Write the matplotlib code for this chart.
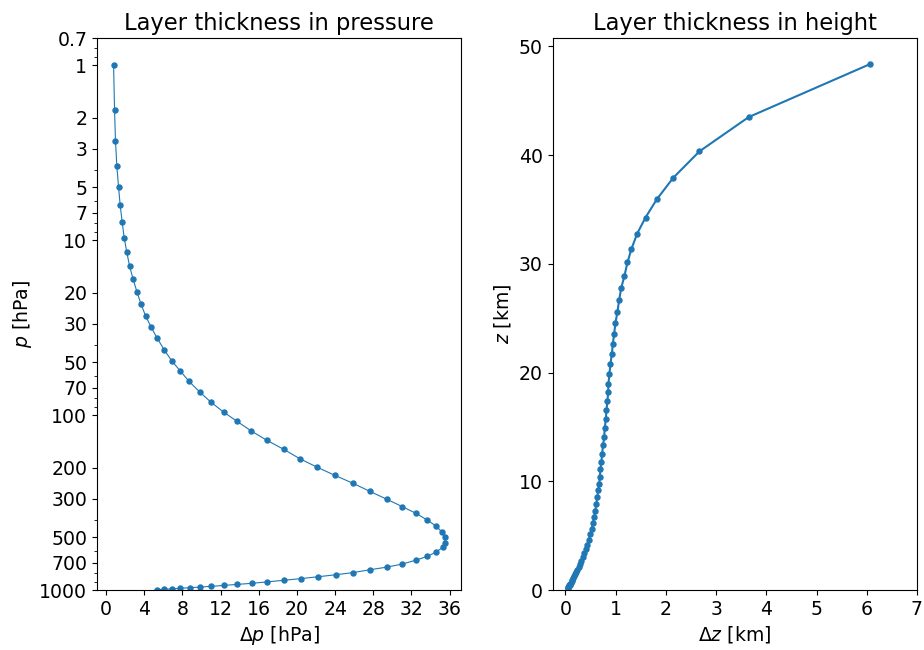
import matplotlib
matplotlib.use("Agg")
import matplotlib.pyplot as plt
from matplotlib.ticker import FixedLocator, FixedFormatter, NullFormatter

# layer mid pressure [hPa] and layer thickness [hPa], top -> bottom
p_mid = [1.0, 1.80, 2.72, 3.77, 4.97, 6.32, 7.9, 9.7, 11.75, 14.06,
         16.75, 19.7, 23.1, 27.1, 31.5, 36.4, 42.3, 48.8, 55.9, 64.3,
         73.9, 84.3, 96.1, 108.7, 123.3, 139.4, 156.9, 177.3, 198.8, 221.5,
         245.9, 273.0, 303.0, 333.7, 364.4, 398.0, 432.0, 467.7, 499.0, 538.0,
         571.0, 605.0, 643.0, 675.0, 711.0, 740.0, 766.0, 795.0, 818.0, 840.0,
         861.0, 880.0, 899.0, 916.0, 929.0, 942.0, 953.0, 962.0, 970.0, 978.0,
         985.0, 991.0, 996.0]
dp = [0.78, 0.88, 0.98, 1.12, 1.30, 1.47, 1.68, 1.89, 2.17, 2.45,
      2.83, 3.22, 3.64, 4.13, 4.72, 5.35, 6.08, 6.85, 7.76, 8.70,
      9.82, 10.97, 12.3, 13.73, 15.2, 16.84, 18.6, 20.27, 22.12, 24.0,
      25.9, 27.64, 29.42, 31.03, 32.46, 33.65, 34.6, 35.22, 35.5, 35.5,
      35.27, 34.6, 33.65, 32.46, 31.03, 29.42, 27.64, 25.9, 24.08, 22.2,
      20.4, 18.6, 16.84, 15.24, 13.7, 12.3, 11.0, 9.82, 8.77, 7.76,
      6.9, 6.08, 5.35]

# layer mid height [km] and layer thickness [km]
z_mid = [48.35, 43.49, 40.34, 37.92, 35.93, 34.25, 32.78, 31.38, 30.12, 28.9,
         27.74, 26.67, 25.6, 24.56, 23.58, 22.63, 21.71, 20.8, 19.88, 18.96,
         18.17, 17.34, 16.51, 15.72, 14.93, 14.06, 13.3, 12.54, 11.8, 11.1,
         10.4, 9.79, 9.17, 8.53, 7.905, 7.30, 6.716, 6.156, 5.62, 5.112,
         4.633, 4.18, 3.76, 3.37, 3.01, 2.68, 2.38, 2.105, 1.855, 1.63,
         1.426, 1.243, 1.08, 0.934, 0.805, 0.69, 0.588, 0.4975, 0.4175, 0.3465,
         0.284, 0.229, 0.181]
dz = [6.06, 3.65, 2.67, 2.15, 1.82, 1.595, 1.43, 1.316, 1.236, 1.176,
      1.11, 1.07, 1.037, 0.997, 0.971, 0.945, 0.925, 0.897, 0.877, 0.857,
      0.851, 0.837, 0.817, 0.805, 0.785, 0.771, 0.751, 0.731, 0.718, 0.698,
      0.685, 0.675, 0.655, 0.633, 0.617, 0.595, 0.573, 0.547, 0.524, 0.492,
      0.466, 0.437, 0.404, 0.375, 0.343, 0.315, 0.288, 0.262, 0.238, 0.215,
      0.193, 0.173, 0.154, 0.137, 0.122, 0.1085, 0.096, 0.085, 0.0756, 0.0664,
      0.0587, 0.0515, 0.0451]

p_ticks = [0.7, 1, 2, 3, 5, 7, 10, 20, 30, 50, 70, 100, 200, 300, 500, 700, 1000]

plt.rcParams['font.size'] = 13.6

fig, (ax1, ax2) = plt.subplots(1, 2, figsize=(9.24, 6.5), dpi=100)
fig.subplots_adjust(left=0.105, right=0.9924, bottom=0.0923, top=0.9415, wspace=0.25)

ax1.plot(dp, p_mid, marker='o', ms=3.6, lw=0.8, color='C0')
ax1.set_yscale('log')
ax1.set_ylim(1000, 0.7)
ax1.yaxis.set_major_locator(FixedLocator(p_ticks))
ax1.yaxis.set_major_formatter(FixedFormatter([f"{t:g}" for t in p_ticks]))
ax1.yaxis.set_minor_formatter(NullFormatter())
ax1.set_xticks(range(0, 37, 4))
ax1.set_xlabel(r'$\Delta p$ [hPa]')
ax1.set_ylabel(r'$p$ [hPa]')
ax1.set_title('Layer thickness in pressure')

ax2.plot(dz, z_mid, marker='o', ms=3.6, lw=1.5, color='C0')
ax2.set_xlim(right=7)
ax2.set_ylim(bottom=0)
ax2.set_xticks(range(0, 8))
ax2.set_xlabel(r'$\Delta z$ [km]')
ax2.set_ylabel(r'$z$ [km]')
ax2.set_title('Layer thickness in height')

fig.savefig('out.png')
